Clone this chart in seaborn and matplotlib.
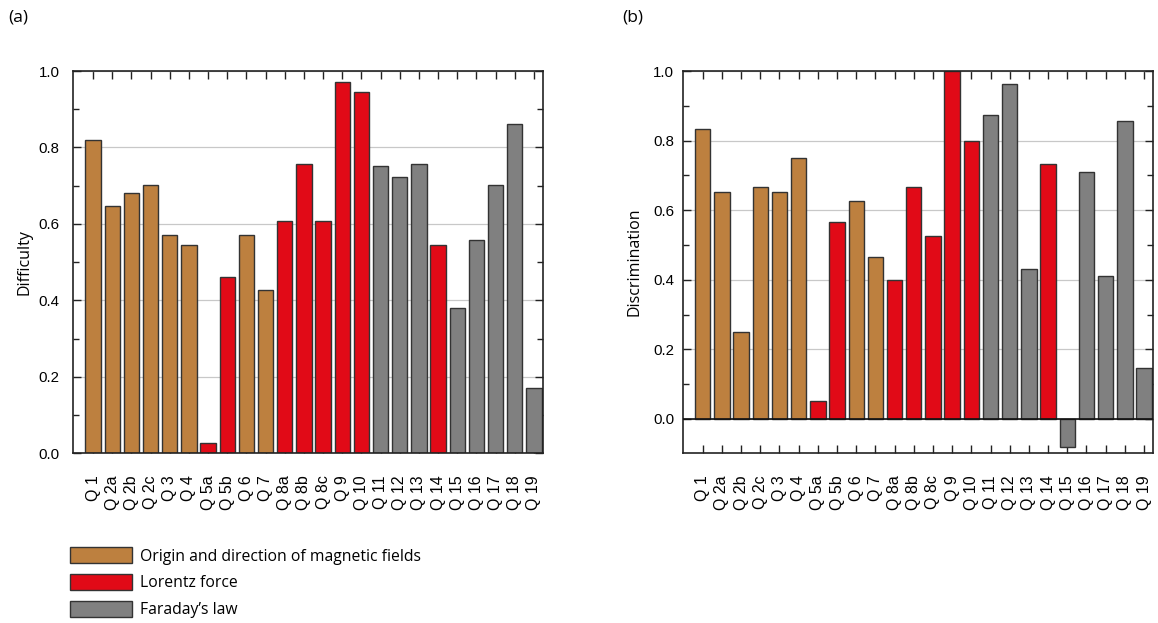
import pandas as pd
import seaborn as sns
import matplotlib.pyplot as plt
from matplotlib.patches import Patch
from matplotlib.ticker import MultipleLocator

sns.set_theme(style="white")
plt.rcParams["font.family"] = ["Liberation Sans", "DejaVu Sans"]

QUESTIONS = ["Q 1", "Q 2a", "Q 2b", "Q 2c", "Q 3", "Q 4", "Q 5a", "Q 5b", "Q 6", "Q 7",
             "Q 8a", "Q 8b", "Q 8c", "Q 9", "Q 10", "Q 11", "Q 12", "Q 13", "Q 14",
             "Q 15", "Q 16", "Q 17", "Q 18", "Q 19"]

TOPICS = ["origin", "origin", "origin", "origin", "origin", "origin", "lorentz", "lorentz",
          "origin", "origin", "lorentz", "lorentz", "lorentz", "lorentz", "lorentz",
          "faraday", "faraday", "faraday", "lorentz", "faraday", "faraday", "faraday",
          "faraday", "faraday"]

DIFFICULTY = [0.82, 0.648, 0.682, 0.703, 0.572, 0.545, 0.027, 0.462, 0.572, 0.428,
              0.607, 0.758, 0.607, 0.972, 0.945, 0.752, 0.724, 0.758, 0.545,
              0.380, 0.558, 0.703, 0.862, 0.172]

DISCRIMINATION = [0.833, 0.652, 0.25, 0.667, 0.652, 0.75, 0.05, 0.567, 0.625, 0.465,
                  0.40, 0.667, 0.526, 1.0, 0.80, 0.875, 0.962, 0.43, 0.733,
                  -0.08, 0.71, 0.41, 0.857, 0.147]

TOPIC_ORDER = ["origin", "lorentz", "faraday"]
TOPIC_LABELS = {
    "origin": "Origin and direction of magnetic fields",
    "lorentz": "Lorentz force",
    "faraday": "Faraday\u2019s law",
}
PALETTE = {"origin": "#bd803f", "lorentz": "#e10a17", "faraday": "#808080"}

df = pd.DataFrame({"question": QUESTIONS, "topic": TOPICS,
                   "difficulty": DIFFICULTY, "discrimination": DISCRIMINATION})

LABEL_FONT = ["Open Sans", "DejaVu Sans"]

fig = plt.figure(figsize=(11.58, 6.23), dpi=100)
ax_a = fig.add_axes([0.0633, 0.2724, 0.4059, 0.6136])
ax_b = fig.add_axes([0.5901, 0.2724, 0.4059, 0.6136])


def draw_panel(ax, col, ylabel, ylim, xlim, ypad):
    ax.set_axisbelow(True)
    ax.yaxis.grid(True, which="major", color="#c8c8c8", linewidth=0.9)
    sns.barplot(data=df, x="question", y=col, hue="topic", hue_order=TOPIC_ORDER,
                palette=PALETTE, dodge=False, width=0.8, saturation=1,
                edgecolor="#333333", linewidth=1.0, legend=False, ax=ax)
    ax.set_ylim(*ylim)
    ax.set_xlim(*xlim)
    ax.yaxis.set_major_locator(MultipleLocator(0.2))
    ax.yaxis.set_minor_locator(MultipleLocator(0.1))
    ax.tick_params(axis="both", which="both", direction="in", top=True, right=True,
                   bottom=True, left=True, color="#222222", labelcolor="black")
    ax.tick_params(axis="both", which="major", length=6, width=1)
    ax.tick_params(axis="y", which="minor", length=4, width=1)
    ax.tick_params(axis="x", pad=16, labelsize=11.5)
    ax.tick_params(axis="y", pad=ypad, labelsize=10.8)
    ax.set_xticks(range(len(QUESTIONS)))
    ax.set_xticklabels(QUESTIONS, rotation=90)
    ax.set_yticklabels([f"{t:.1f}" for t in ax.get_yticks()])
    ax.set_xlabel("")
    ax.set_ylabel(ylabel, family=LABEL_FONT, fontsize=11.5, color="black")
    ax.yaxis.set_label_coords(-0.087, 0.5)
    for s in ax.spines.values():
        s.set_visible(True)
        s.set_color("#222222")
        s.set_linewidth(1.2)


draw_panel(ax_a, "difficulty", "Difficulty", (0, 1.0), (-1.03, 23.49), 10)
draw_panel(ax_b, "discrimination", "Discrimination", (-0.099, 1.0), (-1.01, 23.485), 6.5)
ax_b.axhline(0, color="#111111", linewidth=1.2, zorder=3)

fig.text(0.007, 0.972, "(a)", family=LABEL_FONT, fontsize=12.5, va="center", color="black")
fig.text(0.537, 0.972, "(b)", family=LABEL_FONT, fontsize=12.5, va="center", color="black")

handles = [Patch(facecolor=PALETTE[t], edgecolor="#333333", linewidth=1.0,
                 label=TOPIC_LABELS[t]) for t in TOPIC_ORDER]
fig.legend(handles=handles, loc="lower left", bbox_to_anchor=(0.048, -0.015),
           frameon=False, handlelength=3.95, handleheight=1.15, handletextpad=0.55,
           labelspacing=0.62, labelcolor="black",
           prop={"family": LABEL_FONT, "size": 11.3})

fig.savefig("out.png", dpi=100)
